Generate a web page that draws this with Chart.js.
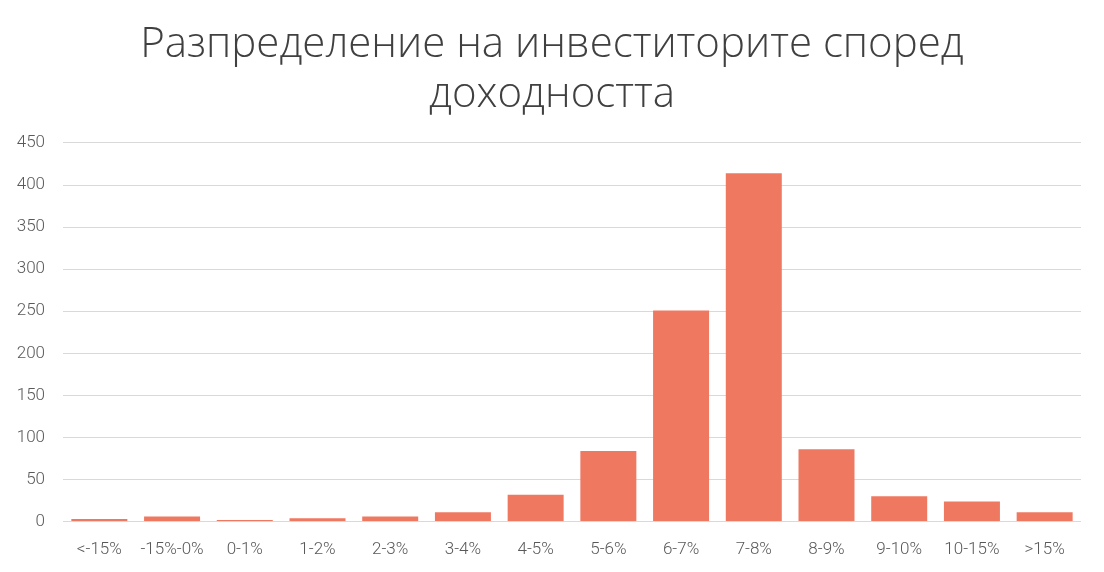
<!DOCTYPE html>
<html lang="bg">
<head>
    <meta charset="UTF-8">
    <title>Разпределение на инвеститорите според доходността</title>
    <script src="https://cdn.jsdelivr.net/npm/chart.js"></script>
    <style>
        body { margin: 0; background: #fff; }
        #wrap { width: 1104px; height: 572px; }
    </style>
</head>
<body>
    <div id="wrap"><canvas id="chart" width="1104" height="572"></canvas></div>
    <script>
        // данни, отчетени от графиката
        const categories = ['<-15%', '-15%-0%', '0-1%', '1-2%', '2-3%', '3-4%', '4-5%', '5-6%', '6-7%', '7-8%', '8-9%', '9-10%', '10-15%', '>15%'];
        const investors = [3, 6, 2, 4, 6, 11, 32, 84, 251, 414, 86, 30, 24, 11];
        const yTicks = [0, 50, 100, 150, 200, 250, 300, 350, 400, 450];

        const tickFont = { family: 'Roboto', size: 17, weight: '300' };

        new Chart(document.getElementById('chart'), {
            type: 'bar',
            data: {
                labels: categories,
                datasets: [{
                    data: investors,
                    backgroundColor: '#ef7861',
                    barPercentage: 0.77,
                    categoryPercentage: 1.0
                }]
            },
            options: {
                responsive: false,
                animation: false,
                layout: { padding: { left: 11, right: 11, top: 0, bottom: -6 } },
                plugins: {
                    legend: { display: false },
                    tooltip: { enabled: false },
                    title: {
                        display: true,
                        text: ['Разпределение на инвеститорите според', 'доходността'],
                        color: '#404040',
                        font: { family: 'Open Sans', size: 42, weight: '300', lineHeight: 1.19 },
                        padding: { top: 20, bottom: 23 }
                    }
                },
                scales: {
                    x: {
                        grid: { display: false, drawTicks: false },
                        border: { display: false },
                        ticks: { color: '#595959', font: tickFont, padding: 18, maxRotation: 0 }
                    },
                    y: {
                        min: 0,
                        max: 450,
                        afterBuildTicks: axis => { axis.ticks = yTicks.map(v => ({ value: v })); },
                        afterFit: axis => { axis.width = 52; },
                        grid: { color: '#d9d9d9', lineWidth: 1, drawTicks: false },
                        border: { display: false },
                        ticks: { color: '#595959', font: tickFont, padding: 18 }
                    },
                    // пустая ос отдясно, само за отстъп
                    yRight: {
                        position: 'right',
                        afterFit: axis => { axis.width = 12; },
                        grid: { display: false, drawTicks: false },
                        border: { display: false },
                        ticks: { display: false }
                    }
                }
            }
        });
    </script>
</body>
</html>
